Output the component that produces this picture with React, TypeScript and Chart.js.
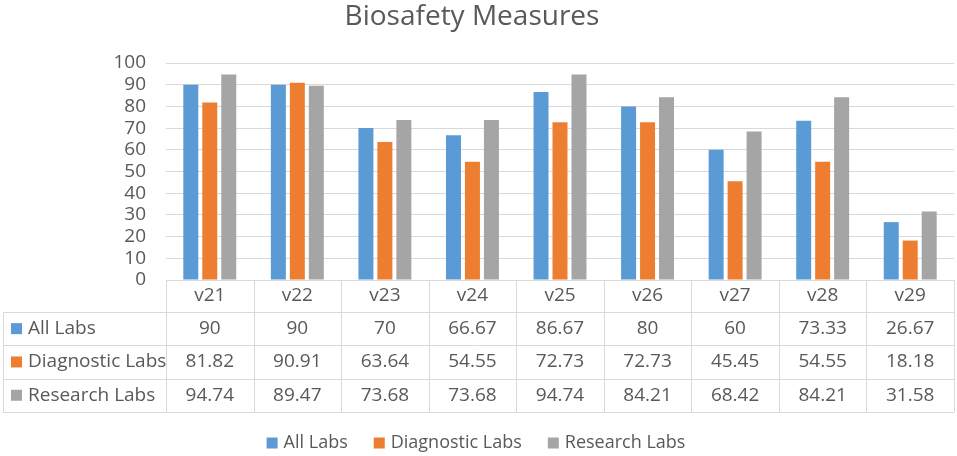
import React, { useEffect, useRef } from 'react';
import Chart from 'chart.js/auto';

const categories = ['v21', 'v22', 'v23', 'v24', 'v25', 'v26', 'v27', 'v28', 'v29'];
const allLabs = [90, 90, 70, 66.67, 86.67, 80, 60, 73.33, 26.67];
const diagnosticLabs = [81.82, 90.91, 63.64, 54.55, 72.73, 72.73, 45.45, 54.55, 18.18];
const researchLabs = [94.74, 89.47, 73.68, 73.68, 94.74, 84.21, 68.42, 84.21, 31.58];
const seriesNames = ['All Labs', 'Diagnostic Labs', 'Research Labs'];
const seriesColors = ['#5B9BD5', '#ED7D31', '#A5A5A5'];

const FONT = '"Open Sans", sans-serif';
const TEXT = '#595959';
const LINE = '#d9d9d9';

// draws title, data table under the axis and the legend
const tablePlugin = {
  id: 'dataTable',
  afterDraw(chart: any) {
    const { ctx, chartArea, scales } = chart;
    const xs = scales.x;
    const half = (xs.getPixelForValue(1) - xs.getPixelForValue(0)) / 2;
    const left = 3;
    const gridLeft = chartArea.left;
    const right = chartArea.right;
    const top = chartArea.bottom;
    const headBottom = 312;
    const rowH = 33.3;
    const bottom = headBottom + rowH * 3;

    ctx.save();
    ctx.strokeStyle = LINE;
    ctx.lineWidth = 1;
    ctx.beginPath();
    for (let r = 0; r <= 3; r++) {
      const y = Math.round(headBottom + rowH * r) + 0.5;
      ctx.moveTo(left, y);
      ctx.lineTo(right, y);
    }
    ctx.moveTo(left + 0.5, headBottom);
    ctx.lineTo(left + 0.5, bottom);
    for (let i = 0; i <= categories.length; i++) {
      const x = Math.round(i === 0 ? gridLeft : xs.getPixelForValue(i - 1) + half) + 0.5;
      ctx.moveTo(x, top);
      ctx.lineTo(x, bottom + 0.5);
    }
    ctx.stroke();

    ctx.fillStyle = TEXT;
    ctx.font = `19px ${FONT}`;
    ctx.textAlign = 'center';
    ctx.textBaseline = 'middle';
    categories.forEach((c, i) => {
      ctx.fillText(c, xs.getPixelForValue(i), (top + headBottom) / 2);
    });

    chart.data.datasets.forEach((ds: any, r: number) => {
      const cy = headBottom + rowH * r + rowH / 2;
      ctx.fillStyle = ds.backgroundColor;
      ctx.fillRect(11, cy - 5.5, 11, 11);
      ctx.fillStyle = TEXT;
      ctx.textAlign = 'left';
      ctx.fillText(ds.label, 28, cy);
      ctx.textAlign = 'center';
      ds.data.forEach((v: number, i: number) => {
        ctx.fillText(String(v), xs.getPixelForValue(i), cy);
      });
    });

    // legend
    ctx.font = `18px ${FONT}`;
    const items = chart.data.datasets.map((ds: any) => ({
      label: ds.label,
      color: ds.backgroundColor,
      w: 17 + ctx.measureText(ds.label).width,
    }));
    const gap = 26;
    const total = items.reduce((s: number, it: any) => s + it.w, 0) + gap * (items.length - 1);
    let lx = 476 - total / 2;
    const ly = 443;
    items.forEach((it: any) => {
      ctx.fillStyle = it.color;
      ctx.fillRect(lx, ly - 5.5, 11, 11);
      ctx.fillStyle = TEXT;
      ctx.textAlign = 'left';
      ctx.fillText(it.label, lx + 17, ly);
      lx += it.w + gap;
    });

    // title
    ctx.font = `28px ${FONT}`;
    ctx.textAlign = 'center';
    ctx.fillText('Biosafety Measures', 472, 17);
    ctx.restore();
  },
};

const App: React.FC = () => {
  const chartRef = useRef<HTMLCanvasElement | null>(null);
  const chartInstance = useRef<Chart | null>(null);

  useEffect(() => {
    document.body.style.margin = '0';
    if (!chartRef.current) return;
    if (chartInstance.current) chartInstance.current.destroy();

    const seriesData = [allLabs, diagnosticLabs, researchLabs];

    chartInstance.current = new Chart(chartRef.current, {
      type: 'bar',
      data: {
        labels: categories,
        datasets: seriesData.map((d, i) => ({
          label: seriesNames[i],
          data: d,
          backgroundColor: seriesColors[i],
          categoryPercentage: 0.65,
          barPercentage: 0.79,
        })),
      },
      options: {
        responsive: true,
        maintainAspectRatio: false,
        animation: false,
        layout: {
          padding: { top: 63, right: 3, bottom: 176, left: 0 },
        },
        plugins: {
          legend: { display: false },
          title: { display: false },
          tooltip: { enabled: false },
        },
        scales: {
          x: {
            display: false,
          },
          y: {
            min: 0,
            max: 100,
            afterFit(scale: any) {
              scale.width = 166;
            },
            ticks: {
              stepSize: 10,
              autoSkip: false,
              color: TEXT,
              padding: 20,
              font: { family: FONT, size: 19 },
            },
            grid: {
              color: LINE,
              drawTicks: false,
            },
            border: { display: false },
          },
        },
      },
      plugins: [tablePlugin],
    });

    return () => {
      if (chartInstance.current) {
        chartInstance.current.destroy();
        chartInstance.current = null;
      }
    };
  }, []);

  return (
    <div style={{ width: 957, height: 456, position: 'relative' }}>
      <canvas ref={chartRef}></canvas>
    </div>
  );
};

export default App;
